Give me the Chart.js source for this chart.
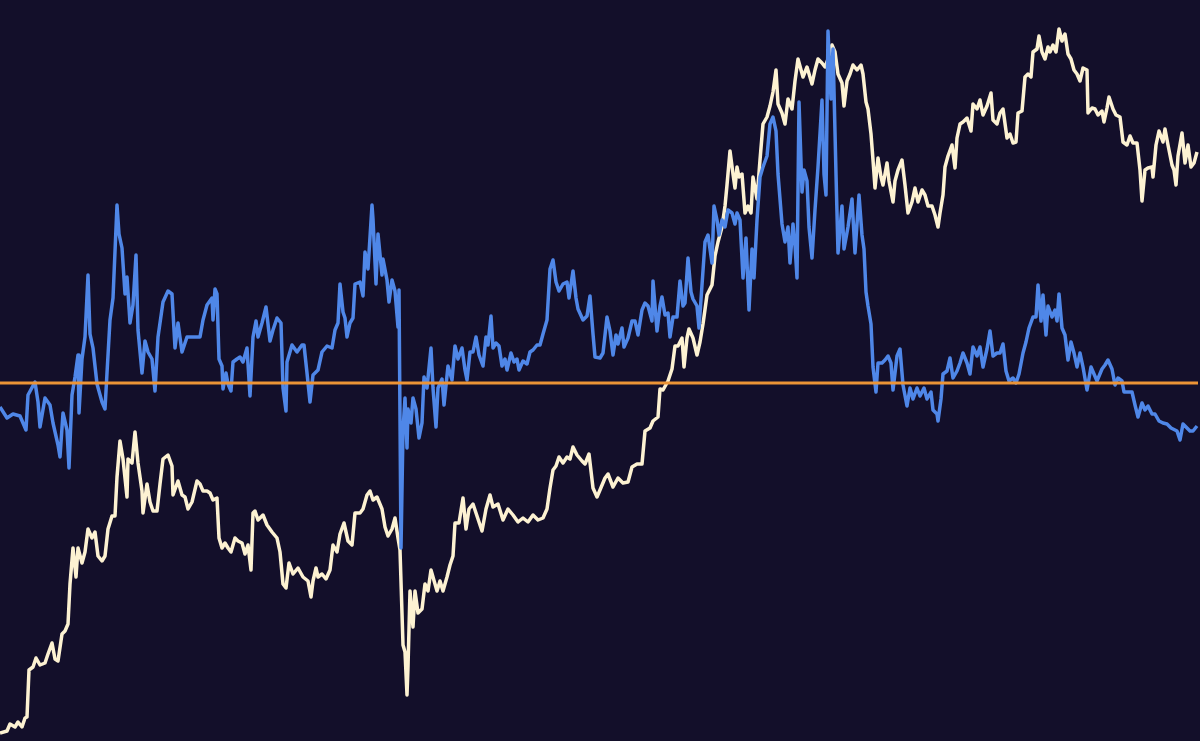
<!DOCTYPE html>
<html>
<head>
<meta charset="utf-8">
<script src="https://cdn.jsdelivr.net/npm/chart.js@4/dist/chart.umd.min.js"></script>
<style>
  html, body { margin: 0; padding: 0; background: #130f2a; }
  #wrap { width: 1200px; height: 741px; }
</style>
</head>
<body>
<div id="wrap"><canvas id="lineChart"></canvas></div>
<script>
// [day, value] readings
const cream = [[0,8],[7,10],[10,17],[15,14],[18,19],[22,14],[25,23],[27,24],[29,71],[33,74],[36,83],[40,76],[45,78],[48,87],[52,98],[55,82],[58,80],[62,107],[65,110],[68,117],[70,157],[73,193],[76,164],[78,193],[82,178],[85,189],[88,212],[92,203],[95,209],[98,185],[102,180],[105,185],[108,212],[112,225],[115,225],[117,264],[120,300],[123,282],[127,244],[128,282],[132,278],[135,309],[138,278],[142,250],[143,228],[147,257],[150,239],[153,230],[157,230],[160,257],[163,282],[168,286],[172,275],[173,246],[178,260],[182,246],[185,244],[188,232],[192,239],[197,260],
  [200,257],[203,250],[207,250],[210,248],[213,241],[217,243],[219,203],[222,193],[225,198],[228,193],[231,189],[235,203],[238,200],[242,198],[245,187],[248,196],[251,171],[253,228],[255,230],[258,221],[263,226],[267,216],[272,209],[277,203],[280,189],[283,157],[286,153],[289,178],[293,167],[298,173],[303,164],[308,160],[311,144],[313,160],[316,173],[318,164],[322,167],[326,162],[330,171],[333,196],[337,189],[340,207],[344,218],[348,200],[352,196],[355,228],[360,228],[363,232],[367,246],[370,250],[373,241],[377,244],[382,232],[385,214],[388,205],[392,212],[395,223],[398,203],
  [400,191],[403,96],[405,89],[407,46],[408,74],[410,150],[413,114],[415,150],[418,128],[422,132],[425,157],[428,150],[431,171],[433,164],[437,150],[440,160],[443,150],[447,164],[450,176],[453,185],[455,218],[459,218],[463,243],[466,212],[469,232],[473,237],[477,225],[482,210],[486,232],[490,246],[493,234],[498,237],[503,221],[508,232],[513,226],[518,219],[523,223],[528,219],[533,226],[538,221],[543,223],[547,232],[550,253],[553,271],[556,275],[559,284],[563,278],[567,284],[570,282],[573,294],[577,286],[582,280],[585,277],[589,287],[593,253],[597,244],
  [600,251],[605,263],[608,267],[613,254],[618,263],[623,258],[628,259],[632,274],[637,277],[642,277],[645,310],[650,313],[653,320],[658,324],[660,352],[663,351],[668,360],[672,372],[675,395],[678,395],[682,403],[684,374],[687,403],[689,412],[693,403],[697,386],[700,399],[703,417],[707,446],[712,456],[715,485],[718,499],[722,514],[725,535],[727,556],[730,590],[733,567],[735,553],[737,574],[739,564],[742,567],[745,528],[748,535],[751,528],[753,564],[757,542],[760,581],[763,617],[767,624],[770,635],[773,649],[776,671],[778,637],[782,628],[785,617],[788,642],[792,632],[795,660],[798,682],
  [803,664],[807,674],[812,657],[815,671],[818,682],[822,678],[825,674],[828,682],[832,696],[835,689],[838,667],[842,658],[844,635],[847,660],[850,667],[853,676],[857,671],[861,676],[863,667],[866,639],[868,632],[871,607],[873,581],[875,553],[878,583],[881,564],[883,556],[887,578],[889,560],[893,539],[895,560],[898,571],[902,581],[905,556],[908,528],[912,539],[915,553],[918,539],[922,551],[925,546],[928,535],[932,535],[935,526],[938,514],[940,528],[943,546],[945,574],[948,585],[952,596],[955,573],[957,603],[960,617],[963,619],[967,623],[971,610],[973,637],[977,632],[980,641],[983,626],[987,635],[991,648],[993,621],[997,617],
  [1000,628],[1003,632],[1007,603],[1010,607],[1013,598],[1016,599],[1018,628],[1022,630],[1025,664],[1028,667],[1031,664],[1033,689],[1037,692],[1039,705],[1042,689],[1045,682],[1048,694],[1050,689],[1053,696],[1056,689],[1059,712],[1062,700],[1065,707],[1068,687],[1071,682],[1074,671],[1077,667],[1080,660],[1083,673],[1087,671],[1088,628],[1092,633],[1095,632],[1098,626],[1102,630],[1104,619],[1107,633],[1109,644],[1113,632],[1116,626],[1120,624],[1123,599],[1127,596],[1130,605],[1133,598],[1137,598],[1140,571],[1142,540],[1145,571],[1148,573],[1152,574],[1153,564],[1156,596],[1159,610],[1163,599],[1165,612],[1168,596],[1172,576],[1174,571],[1176,556],[1178,585],[1182,608],[1185,578],[1188,596],[1191,574],[1194,578],[1197,589]];

const blue = [[0,334],[7,323],[13,327],[20,325],[26,311],[28,346],[35,359],[38,339],[40,314],[45,343],[50,336],[53,318],[58,296],[60,284],[63,328],[67,311],[69,273],[72,346],[75,364],[78,386],[79,328],[82,382],[85,404],[88,466],[90,407],[93,393],[97,357],[102,339],[105,332],[107,368],[110,421],[113,443],[117,536],[119,507],[122,493],[125,447],[127,464],[130,418],[133,436],[136,486],[138,411],[142,368],[145,400],[148,389],[152,382],[155,350],[158,404],[163,439],[168,450],[172,447],[175,393],[178,418],[182,389],[187,404],
  [200,404],[203,421],[207,436],[212,443],[213,421],[215,452],[217,447],[219,382],[222,375],[223,352],[226,368],[228,357],[231,350],[233,379],[237,382],[240,384],[243,379],[247,393],[250,345],[253,404],[256,420],[258,404],[262,418],[266,434],[270,400],[273,411],[277,423],[281,418],[283,353],[286,330],[287,379],[292,396],[297,389],[302,396],[304,396],[307,368],[310,339],[313,366],[318,371],[322,389],[327,395],[332,393],[335,411],[338,418],[340,457],[343,429],[345,423],[347,404],[350,418],[353,423],[355,457],[360,459],[363,445],[365,489],[368,472],[372,536],[373,522],[376,457],[378,507],[382,466],[383,482],[387,461],[389,439],[392,461],[395,450],[398,414],[399,451],[401,193],
  [403,311],[405,343],[407,293],[408,332],[411,318],[413,343],[416,332],[419,303],[422,318],[424,364],[427,353],[431,393],[433,353],[436,314],[438,353],[442,362],[444,336],[448,375],[452,361],[455,395],[458,382],[462,393],[465,371],[467,361],[470,389],[473,389],[476,404],[479,386],[483,375],[486,404],[488,396],[491,425],[493,393],[496,398],[499,395],[502,375],[505,382],[507,371],[511,388],[514,379],[517,382],[519,371],[523,380],[527,377],[530,389],[533,391],[537,396],[540,396],[543,407],[547,421],[550,472],[553,481],[556,459],[559,450],[563,457],[567,459],[569,443],[573,470],[576,443],[578,432],[583,421],[587,425],[590,445],[593,407],[595,384],
  [600,383],[603,388],[607,424],[610,410],[613,386],[616,406],[618,397],[622,413],[624,394],[628,403],[632,420],[635,420],[638,406],[642,431],[645,438],[648,435],[652,420],[653,460],[657,410],[660,435],[662,444],[665,426],[668,428],[670,404],[673,424],[677,424],[680,460],[683,435],[685,438],[688,483],[691,449],[693,442],[697,435],[699,413],[702,456],[705,499],[708,506],[712,478],[714,535],[717,521],[719,506],[722,521],[725,514],[728,531],[732,528],[735,517],[737,528],[740,521],[743,463],[746,503],[749,431],[752,492],[754,463],[757,521],[760,564],[763,574],[767,585],[770,617],[773,624],[776,610],[778,567],[782,517],[785,499],[788,514],[790,478],[793,517],[795,496],[797,463],[799,639],
  [802,549],[804,571],[807,560],[809,514],[812,483],[815,531],[818,574],[822,641],[824,567],[826,546],[828,710],[831,642],[833,692],[836,567],[838,488],[842,535],[844,492],[848,514],[852,542],[855,488],[859,546],[862,506],[864,492],[866,449],[868,435],[871,417],[873,374],[876,349],[878,378],[882,378],[885,381],[888,385],[891,378],[893,351],[897,385],[900,392],[903,356],[907,335],[910,353],[913,342],[917,353],[920,345],[924,353],[927,342],[931,349],[933,331],[937,327],[938,320],[941,342],[943,367],[947,370],[950,383],[953,363],[957,370],[960,378],[963,388],[967,378],[970,367],[973,394],[977,385],[980,394],[983,374],[987,392],[990,410],[993,385],[997,388],
  [1000,388],[1003,397],[1006,370],[1009,360],[1013,363],[1016,358],[1019,367],[1023,388],[1026,399],[1029,413],[1033,424],[1036,424],[1038,456],[1041,420],[1043,446],[1046,406],[1048,435],[1052,424],[1055,431],[1057,420],[1059,447],[1062,413],[1065,406],[1068,381],[1071,399],[1074,388],[1077,374],[1080,388],[1083,374],[1087,351],[1091,374],[1094,367],[1097,360],[1102,372],[1105,376],[1108,381],[1112,372],[1115,356],[1118,363],[1122,360],[1124,349],[1128,349],[1132,349],[1135,336],[1138,324],[1142,338],[1145,331],[1148,335],[1152,327],[1155,327],[1159,320],[1163,318],[1167,317],[1171,313],[1175,311],[1177,310],[1180,301],[1183,317],[1187,313],[1190,310],[1193,310],[1197,315]];

const baseline = 358;
const firstDay = 0;
const lastDay = 1198;

const toPoints = series => series.map(([d, v]) => ({x: d, y: v}));

const ctx = document.getElementById('lineChart').getContext('2d');
new Chart(ctx, {
    type: 'line',
    data: {
        datasets: [{
            label: 'baseline',
            data: [{x: firstDay, y: baseline}, {x: lastDay, y: baseline}],
            borderColor: '#ec9436',
            borderWidth: 3
        }, {
            label: 'blue',
            data: toPoints(blue),
            borderColor: '#4f87e8',
            borderWidth: 3.5
        }, {
            label: 'cream',
            data: toPoints(cream),
            borderColor: '#fdf2d2',
            borderWidth: 3.5
        }]
    },
    options: {
        responsive: true,
        maintainAspectRatio: false,
        animation: false,
        layout: {padding: 0},
        elements: {
            point: {radius: 0},
            line: {tension: 0, borderJoinStyle: 'round'}
        },
        plugins: {
            legend: {display: false},
            tooltip: {enabled: false}
        },
        scales: {
            x: {type: 'linear', display: false, min: 0, max: 1200},
            y: {display: false, min: 0, max: 741}
        }
    }
});
</script>
</body>
</html>
